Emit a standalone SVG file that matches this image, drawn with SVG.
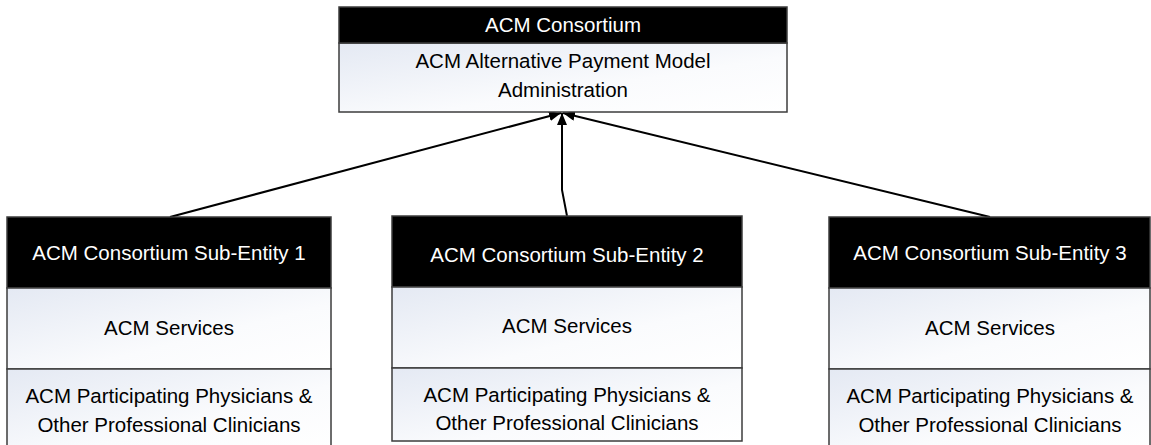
<svg xmlns="http://www.w3.org/2000/svg" width="1151" height="445" viewBox="0 0 1151 445">
  <style>
    .hdr { fill: #000000; stroke: #3c3c3c; stroke-width: 1.5; }
    .body { fill: url(#bodyGrad); stroke: #3c3c3c; stroke-width: 1.5; }
    .ht { fill: #ffffff; font-family: "Liberation Sans", Arial, sans-serif; font-size: 20.5px; text-anchor: middle; }
    .bt { fill: #000000; font-family: "Liberation Sans", Arial, sans-serif; font-size: 20.5px; text-anchor: middle; }
    .conn { fill: none; stroke: #000000; stroke-width: 2; }
  </style>
  <defs>
    <linearGradient id="bodyGrad" x1="0" y1="0" x2="1" y2="1">
      <stop offset="0" stop-color="#e4e9f3"/>
      <stop offset="0.6" stop-color="#fafbfd"/>
      <stop offset="1" stop-color="#ffffff"/>
    </linearGradient>
    <marker id="arrow" viewBox="0 0 12 10" refX="12" refY="5" markerWidth="12" markerHeight="10" markerUnits="userSpaceOnUse" orient="auto">
      <path d="M0,0 L12,5 L0,10 Z" fill="#000000"/>
    </marker>
  </defs>

  <g id="connectors">
    <path class="conn" d="M170,217 L561,113" marker-end="url(#arrow)"/>
    <path class="conn" d="M567,216 L562,190 L562,113" marker-end="url(#arrow)"/>
    <path class="conn" d="M990,217 L563,113" marker-end="url(#arrow)"/>
  </g>

  <g id="acm-consortium">
    <rect class="body" x="339" y="43" width="448" height="69"/>
    <rect class="hdr" x="339" y="7" width="448" height="36"/>
    <text class="ht" x="563" y="32">ACM Consortium</text>
    <text class="bt" x="563" y="68">ACM Alternative Payment Model</text>
    <text class="bt" x="563" y="97">Administration</text>
  </g>

  <g id="sub-entity-1">
    <rect class="hdr" x="7" y="217" width="324" height="71"/>
    <rect class="body" x="7" y="288" width="324" height="81"/>
    <rect class="body" x="7" y="369" width="324" height="82"/>
    <text class="ht" x="169" y="260">ACM Consortium Sub-Entity 1</text>
    <text class="bt" x="169" y="335">ACM Services</text>
    <text class="bt" x="169" y="403">ACM Participating Physicians &amp;</text>
    <text class="bt" x="169" y="432">Other Professional Clinicians</text>
  </g>

  <g id="sub-entity-2">
    <rect class="hdr" x="392" y="216" width="350" height="71"/>
    <rect class="body" x="392" y="287" width="350" height="81"/>
    <rect class="body" x="392" y="368" width="350" height="73"/>
    <text class="ht" x="567" y="262">ACM Consortium Sub-Entity 2</text>
    <text class="bt" x="567" y="333">ACM Services</text>
    <text class="bt" x="567" y="402">ACM Participating Physicians &amp;</text>
    <text class="bt" x="567" y="430">Other Professional Clinicians</text>
  </g>

  <g id="sub-entity-3">
    <rect class="hdr" x="829" y="217" width="321" height="71"/>
    <rect class="body" x="829" y="288" width="321" height="81"/>
    <rect class="body" x="829" y="369" width="321" height="82"/>
    <text class="ht" x="990" y="260">ACM Consortium Sub-Entity 3</text>
    <text class="bt" x="990" y="335">ACM Services</text>
    <text class="bt" x="990" y="403">ACM Participating Physicians &amp;</text>
    <text class="bt" x="990" y="432">Other Professional Clinicians</text>
  </g>
</svg>
